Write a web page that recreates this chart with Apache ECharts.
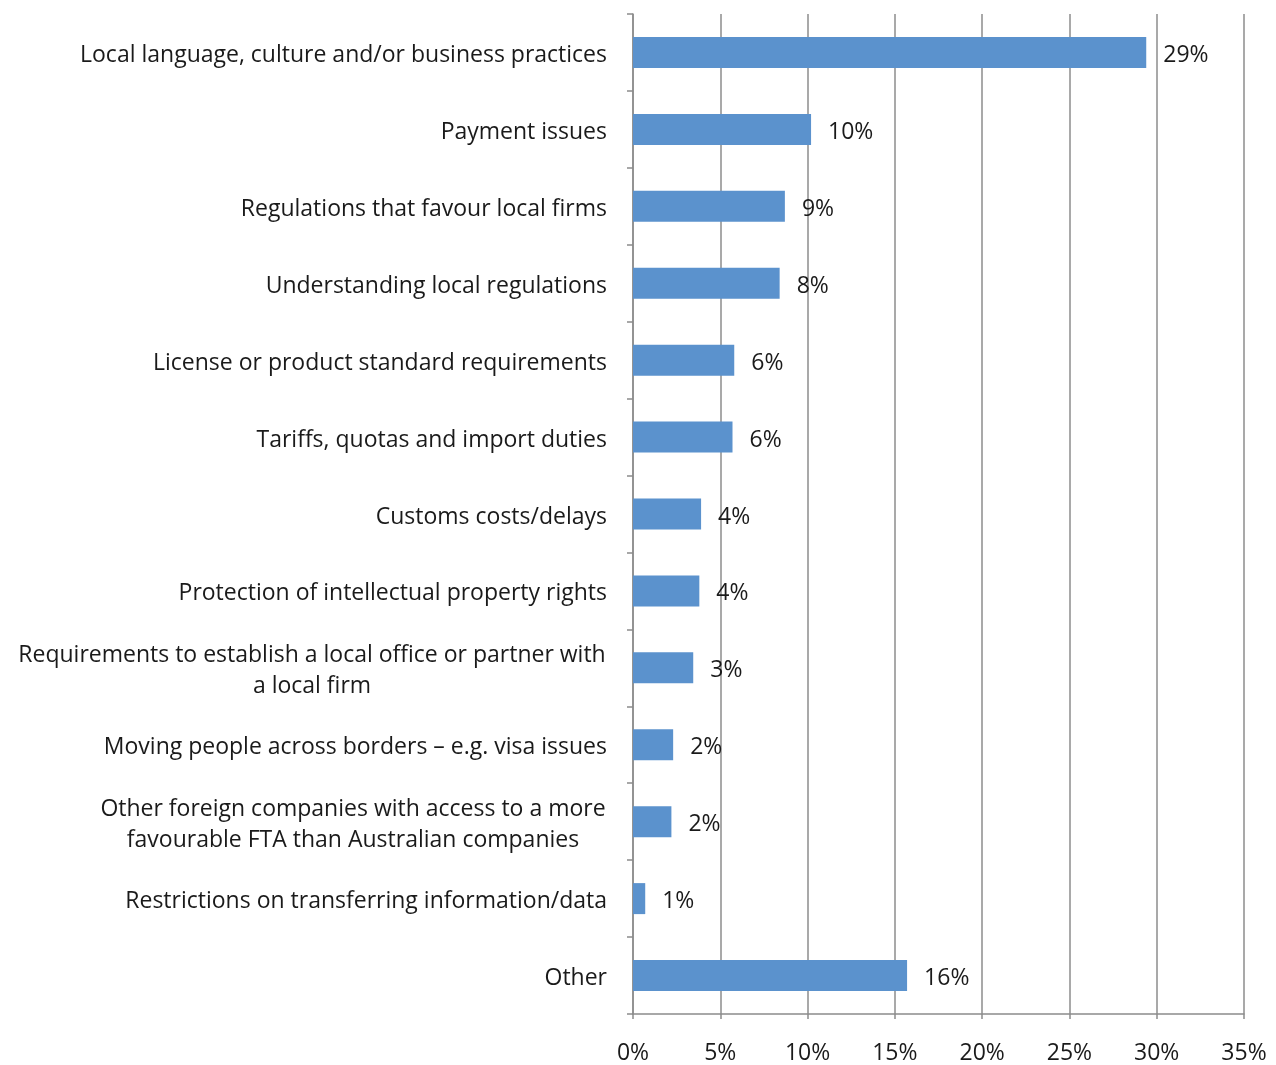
<!DOCTYPE html>
<html>
<head>
<meta charset="utf-8">
<script src="https://cdn.jsdelivr.net/npm/echarts@6/dist/echarts.min.js"></script>
<style>
  html, body { margin: 0; padding: 0; background: #fff; }
  #chart { width: 1276px; height: 1065px; }
</style>
</head>
<body>
<div id="chart"></div>
<script>
// Barriers to exporting: share of respondents (%)
const categories = [
  'Local language, culture and/or business practices',
  'Payment issues',
  'Regulations that favour local firms',
  'Understanding local regulations',
  'License or product standard requirements',
  'Tariffs, quotas and import duties',
  'Customs costs/delays',
  'Protection of intellectual property rights',
  'Requirements to establish a local office or partner with\na local firm',
  'Moving people across borders \u2013 e.g. visa issues',
  'Other foreign companies with access to a more\nfavourable FTA than Australian companies',
  'Restrictions on transferring information/data',
  'Other'
];
const shares = [29.4, 10.2, 8.7, 8.4, 5.8, 5.7, 3.9, 3.8, 3.45, 2.3, 2.2, 0.7, 15.7];
const tickValues = [0, 5, 10, 15, 20, 25, 30, 35];

const FONT = 'Open Sans';
const FS = 23;
const TEXT = '#1a1a1a';

// widest line of a wrapped label, used to centre the lines of that label
const ctx = document.createElement('canvas').getContext('2d');
ctx.font = FS + 'px ' + FONT;
function lineWidth(s) { return Math.ceil(ctx.measureText(s).width); }

const richStyles = {};
const axisData = categories.map((c, i) => {
  if (c.indexOf('\n') < 0) return c;
  const lines = c.split('\n');
  const w = Math.max.apply(null, lines.map(lineWidth)) + 2;
  const key = 'w' + i;
  richStyles[key] = { width: w, align: 'center', fontFamily: FONT, fontSize: FS, color: TEXT, lineHeight: 31 };
  return lines.map(l => '{' + key + '|' + l + '}').join('\n');
});

const chart = echarts.init(document.getElementById('chart'));
chart.setOption({
  animation: false,
  grid: { left: 633, right: 32, top: 14, bottom: 46, containLabel: false },
  xAxis: {
    type: 'value',
    min: 0,
    max: 35,
    interval: 5,
    axisLine: { show: true, lineStyle: { color: '#8c8c8c', width: 1.5 } },
    axisTick: { show: true, length: 5, lineStyle: { color: '#8c8c8c', width: 1.5 } },
    splitLine: { show: true, lineStyle: { color: '#8c8c8c', width: 1.5 } },
    axisLabel: {
      margin: 28,
      fontFamily: FONT, fontSize: FS, color: TEXT,
      formatter: v => (tickValues.indexOf(v) >= 0 ? v + '%' : '')
    }
  },
  yAxis: {
    type: 'category',
    inverse: true,
    data: axisData,
    axisLine: { show: true, lineStyle: { color: '#8c8c8c', width: 1.5 } },
    axisTick: { show: true, length: 6, lineStyle: { color: '#8c8c8c', width: 1.5 } },
    axisLabel: {
      margin: 26,
      padding: [6, 0, 0, 0],
      fontFamily: FONT, fontSize: FS, color: TEXT, lineHeight: 31,
      rich: richStyles
    }
  },
  series: [{
    type: 'bar',
    data: shares,
    barWidth: 31,
    itemStyle: { color: '#5b92cd' },
    label: {
      show: true,
      position: 'right',
      distance: 17,
      offset: [0, 3],
      fontFamily: FONT, fontSize: FS, color: TEXT,
      formatter: p => Math.round(p.value) + '%'
    }
  }]
});
</script>
</body>
</html>
